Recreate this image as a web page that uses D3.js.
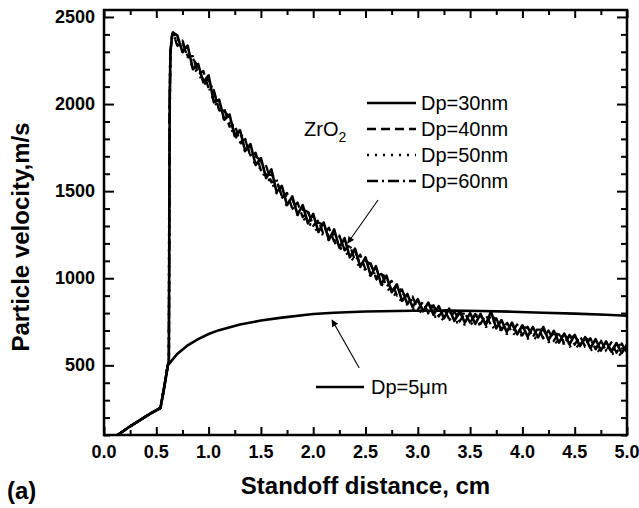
<!DOCTYPE html>
<html>
<head>
<meta charset="utf-8">
<script src="https://cdn.jsdelivr.net/npm/d3@7"></script>
<style>
  body { margin: 0; background: #fff; }
  svg { font-family: "Liberation Sans", Arial, sans-serif; }
</style>
</head>
<body>
<svg id="chart" width="639" height="508"></svg>
<script>
// common start of the nano curves (rise, then the jump at ~0.62 cm)
var startX = [0.13, 0.25, 0.37, 0.45, 0.54, 0.58, 0.61, 0.62, 0.628, 0.635, 0.65, 0.66];
var startV = [100, 150, 195, 225, 255, 390, 500, 520, 2000, 2300, 2390, 2410];

// noisy part, x from 0.70 to 5.00 every 0.05 cm
var nanoX = [0.70,0.75,0.80,0.85,0.90,0.95,1.00,1.05,1.10,1.15,1.20,1.25,1.30,1.35,1.40,1.45,1.50,1.55,1.60,1.65,
  1.70,1.75,1.80,1.85,1.90,1.95,2.00,2.05,2.10,2.15,2.20,2.25,2.30,2.35,2.40,2.45,2.50,2.55,2.60,2.65,
  2.70,2.75,2.80,2.85,2.90,2.95,3.00,3.05,3.10,3.15,3.20,3.25,3.30,3.35,3.40,3.45,3.50,3.55,3.60,3.65,
  3.70,3.75,3.80,3.85,3.90,3.95,4.00,4.05,4.10,4.15,4.20,4.25,4.30,4.35,4.40,4.45,4.50,4.55,4.60,4.65,
  4.70,4.75,4.80,4.85,4.90,4.95,5.00];

var dp30 = [2395,2300,2335,2200,2230,2125,2165,2010,2025,1910,1940,1815,1850,1730,1770,1650,1690,1575,1625,1495,
  1530,1420,1470,1365,1420,1315,1370,1265,1320,1220,1280,1175,1230,1120,1170,1065,1120,1015,1070,965,
  1015,920,965,870,910,835,880,810,860,790,840,770,825,755,810,745,800,738,795,732,
  810,712,760,692,745,678,730,665,720,660,720,645,698,630,682,620,675,610,662,598,
  650,585,638,578,628,570,620];

var dp40 = [2335,2365,2275,2275,2170,2190,2090,2080,1965,1975,1870,1885,1780,1800,1700,1720,1620,1645,1550,1565,
  1465,1490,1400,1435,1350,1385,1300,1335,1250,1290,1210,1245,1160,1190,1100,1135,1050,1085,1000,1035,
  950,985,900,935,850,895,820,865,800,845,780,825,765,810,752,800,745,795,738,790,
  730,770,702,750,688,735,672,722,662,715,655,700,640,688,625,675,618,668,608,655,
  592,642,582,632,572,625,568];

var dp50 = [2345,2300,2285,2210,2180,2125,2105,2015,1980,1910,1885,1815,1795,1730,1715,1650,1630,1570,1560,1490,
  1475,1415,1405,1365,1350,1315,1300,1265,1250,1220,1210,1175,1160,1120,1100,1065,1050,1015,1000,965,
  950,915,900,865,850,825,820,800,800,780,780,760,765,745,750,735,745,728,738,722,
  730,702,705,682,690,667,675,655,665,648,660,635,643,620,627,608,620,600,610,588,
  595,575,585,565,575,555,565];

var dp60 = [2370,2350,2270,2260,2215,2135,2140,2070,1970,1960,1925,1830,1830,1795,1705,1700,1675,1590,1595,1565,
  1470,1475,1455,1380,1395,1380,1305,1320,1305,1235,1255,1240,1165,1180,1155,1080,1100,1080,1005,1025,
  1005,930,950,930,855,880,870,815,845,840,785,815,815,760,800,795,748,790,785,740,
  785,765,705,740,735,685,720,715,668,705,705,652,685,678,630,665,665,618,652,648,
  598,635,630,582,620,615,575];

// Dp = 5 um curve
var micronX = [0.13, 0.25, 0.37, 0.45, 0.54, 0.58, 0.61, 0.7, 0.8, 0.9, 1.0, 1.1, 1.3, 1.5, 1.7, 2.0, 2.2, 2.5, 2.95, 3.3, 3.6, 3.9, 4.2, 4.5, 4.8, 5.0];
var micronV = [100, 150, 195, 225, 255, 390, 500, 565, 615, 650, 680, 702, 735, 757, 774, 795, 802, 809, 813, 814, 812, 808, 802, 797, 790, 785];

var xMajor = [0,0.5,1,1.5,2,2.5,3,3.5,4,4.5,5];
var yMajor = [500,1000,1500,2000,2500];

var legendNames = ["Dp=30nm", "Dp=40nm", "Dp=50nm", "Dp=60nm"];
var legendDash = [null, "9,5", "2,6", "11,4,2,4"];

var svg = d3.select("#chart"),
    margin = {top: 10, left: 104, bottom: 73, right: 12},
    width = +svg.attr("width"),
    height = +svg.attr("height");
var x0 = margin.left, x1 = width - margin.right,
    y0 = height - margin.bottom, y1 = margin.top;

var x = d3.scaleLinear().domain([0, 5]).range([x0, x1]);
var y = d3.scaleLinear().domain([100, 2540]).range([y0, y1]);

svg.append("clipPath").attr("id", "clip")
  .append("rect").attr("x", x0).attr("y", y1).attr("width", x1 - x0).attr("height", y0 - y1);

var xMinor = d3.range(0.25, 5, 0.5);
var yMinor = d3.range(100, 2540, 100).filter(d => d % 500 != 0);

function tickAxis(axis, scale, vals, size, tr) {
  var g = svg.append("g").attr("transform", tr)
    .call(axis(scale).tickValues(vals).tickSize(size).tickFormat(""));
  g.select(".domain").remove();
  g.selectAll("line").attr("stroke", "#000").attr("stroke-width", 2);
  return g;
}
tickAxis(d3.axisBottom, x, xMajor, -8, `translate(0,${y0})`);
tickAxis(d3.axisBottom, x, xMinor, -5, `translate(0,${y0})`);
tickAxis(d3.axisTop, x, xMajor, -8, `translate(0,${y1})`);
tickAxis(d3.axisTop, x, xMinor, -5, `translate(0,${y1})`);
tickAxis(d3.axisLeft, y, yMajor, -10, `translate(${x0},0)`);
tickAxis(d3.axisLeft, y, yMinor, -6, `translate(${x0},0)`);
tickAxis(d3.axisRight, y, yMajor, -10, `translate(${x1},0)`);
tickAxis(d3.axisRight, y, yMinor, -6, `translate(${x1},0)`);

// tick labels
svg.append("g").selectAll("text").data(xMajor).enter().append("text")
  .attr("x", d => x(d)).attr("y", y0 + 23)
  .attr("text-anchor", "middle").attr("font-weight", "bold").attr("font-size", 18)
  .text(d => d.toFixed(1));
svg.append("g").selectAll("text").data(yMajor).enter().append("text")
  .attr("x", x0 - 9).attr("y", d => y(d) + 6)
  .attr("text-anchor", "end").attr("font-weight", "bold").attr("font-size", 18)
  .text(d => d);

svg.append("rect").attr("x", x0).attr("y", y1).attr("width", x1 - x0).attr("height", y0 - y1)
  .attr("fill", "none").attr("stroke", "#000").attr("stroke-width", 2.5);

// curves
var line = d3.line().x(d => x(d[0])).y(d => y(d[1]));
var plot = svg.append("g").attr("clip-path", "url(#clip)");

plot.append("path")
  .datum(micronX.map((d, i) => [d, micronV[i]]))
  .attr("d", line).attr("fill", "none").attr("stroke", "#000").attr("stroke-width", 2.6);

var nano = [dp30, dp40, dp50, dp60];
var nanoWidth = [2.6, 2.3, 2.8, 2.3];
nano.forEach(function(vals, k) {
  var pts = startX.map((d, i) => [d, startV[i]]).concat(nanoX.map((d, i) => [d, vals[i]]));
  plot.append("path").datum(pts)
    .attr("d", line).attr("fill", "none").attr("stroke", "#000")
    .attr("stroke-width", nanoWidth[k]).attr("stroke-linejoin", "round")
    .attr("stroke-dasharray", legendDash[k]);
});

// legend
var leg = svg.append("g");
legendNames.forEach(function(name, i) {
  var ly = 103 + i * 26;
  leg.append("line").attr("x1", 367).attr("x2", 416).attr("y1", ly).attr("y2", ly)
    .attr("stroke", "#000").attr("stroke-width", i == 2 ? 2.6 : 2.4)
    .attr("stroke-dasharray", legendDash[i]);
  leg.append("text").attr("x", 421).attr("y", ly + 7).attr("font-size", 20).text(name);
});
var zr = svg.append("text").attr("x", 304).attr("y", 136).attr("font-size", 20);
zr.append("tspan").text("ZrO");
zr.append("tspan").attr("font-size", 14).attr("dy", 6).text("2");

leg.append("line").attr("x1", 316).attr("x2", 364).attr("y1", 387).attr("y2", 387)
  .attr("stroke", "#000").attr("stroke-width", 2.4);
leg.append("text").attr("x", 371).attr("y", 394).attr("font-size", 20).text("Dp=5\u03bcm");

// arrows
svg.append("defs").append("marker").attr("id", "arr")
  .attr("viewBox", "0 0 10 10").attr("refX", 9).attr("refY", 5)
  .attr("markerWidth", 9).attr("markerHeight", 7).attr("markerUnits", "userSpaceOnUse")
  .attr("orient", "auto")
  .append("path").attr("d", "M0,0L10,5L0,10Z").attr("fill", "#000");
var arrows = [[2.62, 1449, 2.33, 1202], [2.44, 485, 2.18, 760]];
arrows.forEach(function(a) {
  svg.append("line").attr("x1", x(a[0])).attr("y1", y(a[1])).attr("x2", x(a[2])).attr("y2", y(a[3]))
    .attr("stroke", "#000").attr("stroke-width", 1.1).attr("marker-end", "url(#arr)");
});

// titles
svg.append("text").attr("x", (x0 + x1) / 2).attr("y", 494)
  .attr("text-anchor", "middle").attr("font-weight", "bold").attr("font-size", 24)
  .text("Standoff distance, cm");
svg.append("text").attr("transform", "translate(29,237) rotate(-90)")
  .attr("text-anchor", "middle").attr("font-weight", "bold").attr("font-size", 24)
  .text("Particle velocity,m/s");
svg.append("text").attr("x", 7).attr("y", 499)
  .attr("font-weight", "bold").attr("font-size", 24).text("(a)");
</script>
</body>
</html>
